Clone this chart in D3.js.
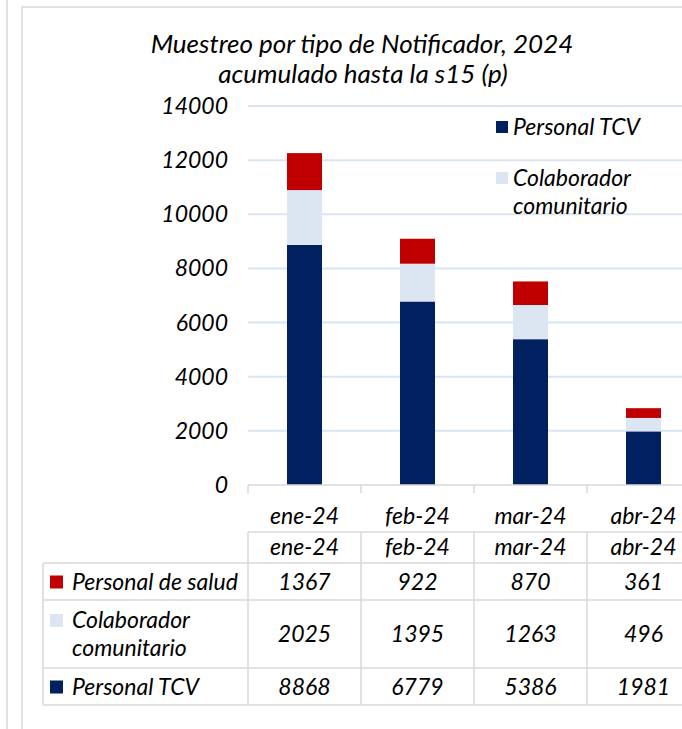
<!DOCTYPE html>
<html>
<head>
<meta charset="utf-8">
<script src="https://cdn.jsdelivr.net/npm/d3@7"></script>
<style>
  body { margin: 0; background: #fff; }
  text { font-family: Lato, "Open Sans", sans-serif; font-style: italic; fill: #000; }
</style>
</head>
<body>
<svg id="chart" width="682" height="729"></svg>
<script>
// Data
var months = ["ene-24", "feb-24", "mar-24", "abr-24"];
var personalTCV = [8868, 6779, 5386, 1981];
var colaborador = [2025, 1395, 1263, 496];
var personalSalud = [1367, 922, 870, 361];
var yTicks = [0, 2000, 4000, 6000, 8000, 10000, 12000, 14000];

var series = [
    { key: "tcv", name: ["Personal TCV"], values: personalTCV, color: "#002060" },
    { key: "col", name: ["Colaborador", "comunitario"], values: colaborador, color: "#dce6f2" },
    { key: "sal", name: ["Personal de salud"], values: personalSalud, color: "#c00000" }
];

var svg = d3.select("#chart");
var gridColor = "#dbe5f1", lineColor = "#d9d9d9";
var fs = 23;

// frame
svg.append("line").attr("x1", 7).attr("x2", 7).attr("y1", 0).attr("y2", 729)
    .attr("stroke", lineColor).attr("stroke-width", 1.5);
svg.append("path").attr("d", "M22,729V7H690")
    .attr("fill", "none").attr("stroke", lineColor).attr("stroke-width", 1.5);

// title
svg.append("text").attr("x", 362).attr("y", 53).attr("text-anchor", "middle")
    .attr("font-size", 26).text("Muestreo por tipo de Notificador, 2024");
svg.append("text").attr("x", 363).attr("y", 83).attr("text-anchor", "middle")
    .attr("font-size", 26).text("acumulado hasta la s15 (p)");

// scales
var x = d3.scaleBand().domain(months).range([248, 700]);
var y = d3.scaleLinear().domain([0, 14000]).range([485, 106]);
var barW = 35;

// grid
svg.append("g").selectAll("line").data(yTicks.filter(d => d > 0)).join("line")
    .attr("x1", 248).attr("x2", 682)
    .attr("y1", d => y(d)).attr("y2", d => y(d))
    .attr("stroke", gridColor).attr("stroke-width", 2);

// y axis labels
svg.append("g").selectAll("text").data(yTicks).join("text")
    .attr("x", 228).attr("y", d => y(d) + 8)
    .attr("text-anchor", "end").attr("font-size", fs)
    .text(d => d);

// stacked bars
var table = months.map((m, i) => ({ month: m, tcv: personalTCV[i], col: colaborador[i], sal: personalSalud[i] }));
var stack = d3.stack().keys(["tcv", "col", "sal"])(table);
svg.append("g").selectAll("g").data(stack).join("g")
    .attr("fill", (d, i) => series[i].color)
    .selectAll("rect").data(d => d).join("rect")
    .attr("x", d => x(d.data.month) + (x.bandwidth() - barW) / 2)
    .attr("width", barW)
    .attr("y", d => y(d[1]))
    .attr("height", d => y(d[0]) - y(d[1]));

// x axis line and ticks
svg.append("line").attr("x1", 248).attr("x2", 682).attr("y1", 485).attr("y2", 485)
    .attr("stroke", lineColor).attr("stroke-width", 1.5);
svg.append("g").selectAll("line").data(months).join("line")
    .attr("x1", d => x(d)).attr("x2", d => x(d))
    .attr("y1", 485).attr("y2", 493)
    .attr("stroke", lineColor).attr("stroke-width", 1.5);

// axis category labels
svg.append("g").selectAll("text").data(months).join("text")
    .attr("x", d => x(d) + x.bandwidth() / 2).attr("y", 524)
    .attr("text-anchor", "middle").attr("font-size", fs).text(d => d);

// legend
var legend = svg.append("g");
[series[0], series[1]].forEach((s, i) => {
    var ly = 135 + i * 51;
    legend.append("rect").attr("x", 496).attr("y", ly - 14).attr("width", 12).attr("height", 12)
        .attr("fill", s.color);
    s.name.forEach((t, j) => {
        legend.append("text").attr("x", 513).attr("y", ly + j * 28)
            .attr("font-size", fs).text(t);
    });
});

// data table
var rowTops = [532, 563, 600, 668, 705];
var tableLeft = 43;
var tg = svg.append("g");
// horizontal lines
tg.append("line").attr("x1", 248).attr("x2", 682).attr("y1", rowTops[0]).attr("y2", rowTops[0])
    .attr("stroke", lineColor).attr("stroke-width", 1.5);
rowTops.slice(1).forEach(yy => {
    tg.append("line").attr("x1", tableLeft).attr("x2", 682).attr("y1", yy).attr("y2", yy)
        .attr("stroke", lineColor).attr("stroke-width", 1.5);
});
// vertical lines
tg.selectAll("line.v").data(months).join("line").attr("class", "v")
    .attr("x1", d => x(d)).attr("x2", d => x(d))
    .attr("y1", rowTops[0]).attr("y2", rowTops[4])
    .attr("stroke", lineColor).attr("stroke-width", 1.5);
tg.append("line").attr("x1", tableLeft).attr("x2", tableLeft)
    .attr("y1", rowTops[1]).attr("y2", rowTops[4])
    .attr("stroke", lineColor).attr("stroke-width", 1.5);

// header row
tg.selectAll("text.h").data(months).join("text").attr("class", "h")
    .attr("x", d => x(d) + x.bandwidth() / 2).attr("y", 555)
    .attr("text-anchor", "middle").attr("font-size", fs).text(d => d);

// body rows: salud, colaborador, tcv
var rowOrder = [series[2], series[1], series[0]];
rowOrder.forEach((s, r) => {
    var top = rowTops[r + 1], bot = rowTops[r + 2];
    var mid = (top + bot) / 2;
    var n = s.name.length;
    var firstY = mid - (n - 1) * 14 + 8;
    tg.append("rect").attr("x", 50).attr("y", firstY - 14).attr("width", 13).attr("height", 13)
        .attr("fill", s.color);
    s.name.forEach((t, j) => {
        tg.append("text").attr("x", 72).attr("y", firstY + j * 28)
            .attr("font-size", fs).text(t);
    });
    s.values.forEach((v, i) => {
        tg.append("text").attr("x", x(months[i]) + x.bandwidth() / 2).attr("y", mid + 8)
            .attr("text-anchor", "middle").attr("font-size", fs).text(v);
    });
});
</script>
</body>
</html>
